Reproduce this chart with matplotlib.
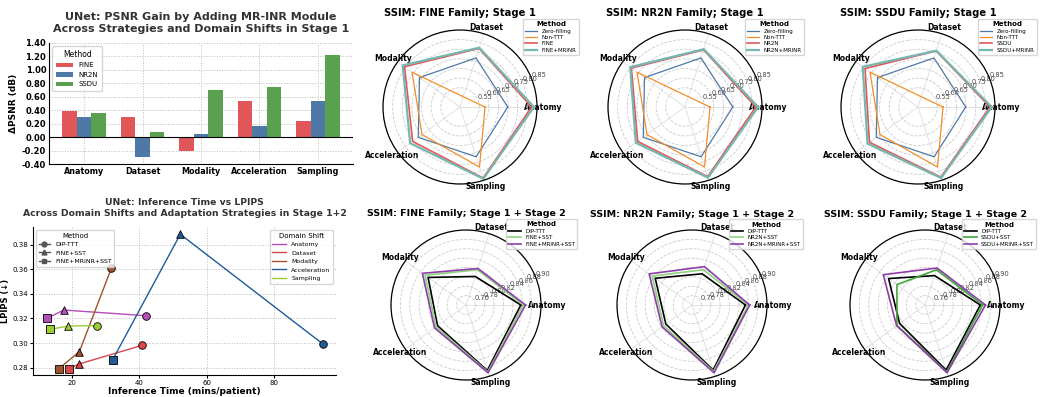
import numpy as np
import matplotlib.pyplot as plt

# ---- PSNR gain bar data ----
shifts = ["Anatomy", "Dataset", "Modality", "Acceleration", "Sampling"]
gain_fine = [0.39, 0.30, -0.20, 0.54, 0.24]
gain_nr2n = [0.30, -0.30, 0.05, 0.17, 0.53]
gain_ssdu = [0.36, 0.08, 0.70, 0.75, 1.22]

# ---- inference time vs LPIPS (DIP-TTT, FINE+SST, FINE+MRINR+SST) ----
time_mins = {
    "Anatomy":      [42.0, 17.5, 12.6],
    "Dataset":      [40.8, 22.2, 19.1],
    "Modality":     [31.7, 22.2, 16.1],
    "Acceleration": [94.6, 52.2, 32.1],
    "Sampling":     [27.4, 18.8, 13.6],
}
lpips_vals = {
    "Anatomy":      [0.3222, 0.3268, 0.3200],
    "Dataset":      [0.2981, 0.2830, 0.2792],
    "Modality":     [0.3608, 0.2930, 0.2792],
    "Acceleration": [0.2992, 0.3884, 0.2865],
    "Sampling":     [0.3141, 0.3138, 0.3111],
}
shift_colors = {
    "Anatomy": "#b44fb8",
    "Dataset": "#d9474a",
    "Modality": "#a0522d",
    "Acceleration": "#1f5b98",
    "Sampling": "#9acd32",
}

# ---- SSIM radar data, stage 1 ----
ssim_zero = [0.698, 0.718, 0.710, 0.718, 0.722]
ssim_nonttt = [0.580, 0.506, 0.758, 0.694, 0.778]
ssim_fine = [0.822, 0.770, 0.806, 0.754, 0.838]
ssim_fine_mrinr = [0.834, 0.774, 0.818, 0.770, 0.842]
ssim_nr2n = [0.818, 0.762, 0.794, 0.754, 0.830]
ssim_nr2n_mrinr = [0.830, 0.766, 0.802, 0.766, 0.836]
ssim_ssdu = [0.824, 0.756, 0.790, 0.762, 0.833]
ssim_ssdu_mrinr = [0.833, 0.758, 0.805, 0.774, 0.838]

# ---- SSIM radar data, stage 1 + stage 2 ----
s12_dip = [0.857, 0.804, 0.840, 0.815, 0.887]
s12_fine_sst = [0.862, 0.819, 0.848, 0.819, 0.890]
s12_fine_mrinr_sst = [0.867, 0.822, 0.855, 0.823, 0.892]
s12_dip_nr2n = [0.854, 0.810, 0.837, 0.809, 0.886]
s12_nr2n_sst = [0.860, 0.819, 0.845, 0.815, 0.889]
s12_nr2n_mrinr_sst = [0.863, 0.826, 0.853, 0.819, 0.892]
s12_dip_ssdu = [0.858, 0.806, 0.836, 0.807, 0.886]
s12_ssdu_sst = [0.863, 0.819, 0.814, 0.814, 0.890]
s12_ssdu_mrinr_sst = [0.869, 0.823, 0.850, 0.815, 0.892]

W, H = 1041, 397
fig = plt.figure(figsize=(W / 100, H / 100), dpi=100)


def px_axes(left, top, right, bottom, **kw):
    return fig.add_axes([left / W, 1 - bottom / H, (right - left) / W, (bottom - top) / H], **kw)


# ---------------- bar chart ----------------
ax = px_axes(49, 43, 353, 164)
x = np.arange(len(shifts))
bw = 0.25
ax.bar(x - bw, gain_fine, bw, color="#e15759", label="FINE", zorder=3)
ax.bar(x, gain_nr2n, bw, color="#4e79a7", label="NR2N", zorder=3)
ax.bar(x + bw, gain_ssdu, bw, color="#59a14f", label="SSDU", zorder=3)
ax.axhline(0, color="black", lw=0.8, zorder=4)
ax.set_xlim(-0.6, 4.6)
ax.set_ylim(-0.4, 1.4)
yt = np.arange(-0.4, 1.41, 0.2)
ax.set_yticks(yt)
ax.set_yticklabels([f"{v:.2f}" for v in yt], fontweight="bold", fontsize=6)
ax.set_xticks(x)
ax.set_xticklabels(shifts, fontweight="bold", fontsize=5.8)
ax.tick_params(length=0, pad=2)
ax.grid(True, ls=":", color="#bbbbbb", lw=0.7, zorder=0)
for s in ("top", "right"):
    ax.spines[s].set_visible(False)
ax.set_ylabel("ΔPSNR (dB)", fontweight="bold", fontsize=6.5, labelpad=3)
ax.set_title("UNet: PSNR Gain by Adding MR-INR Module\nAcross Strategies and Domain Shifts in Stage 1",
             fontweight="bold", fontsize=8, color="#333333", pad=8)
ax.legend(title="Method", loc="upper left", fontsize=5, title_fontsize=5.5, handlelength=2.5,
          borderpad=0.5, labelspacing=0.5)

# ---------------- time vs LPIPS ----------------
ax = px_axes(33, 227, 336, 375)
for name in shifts:
    t = time_mins[name]
    v = lpips_vals[name]
    c = shift_colors[name]
    ax.plot(t[::-1], v[::-1], color=c, lw=1.0, zorder=2)
    for k, m in enumerate(["o", "^", "s"]):
        ax.scatter(t[k], v[k], marker=m, s=30, color=c, edgecolor="black", lw=0.6, zorder=3)
ax.set_xlim(8.4, 98.5)
ax.set_ylim(0.274, 0.3943)
ax.set_xticks([20, 40, 60, 80])
lt = np.arange(0.28, 0.381, 0.02)
ax.set_yticks(lt)
ax.set_yticklabels([f"{v:.2f}" for v in lt])
ax.tick_params(labelsize=5, length=2, pad=1.5)
ax.grid(True, ls=":", color="#bbbbbb", lw=0.7)
for s in ("top", "right"):
    ax.spines[s].set_visible(False)
ax.set_xlabel("Inference Time (mins/patient)", fontweight="bold", fontsize=6.5, labelpad=1)
ax.set_ylabel("LPIPS (↓)", fontweight="bold", fontsize=6, labelpad=2)
ax.set_title("UNet: Inference Time vs LPIPS\nAcross Domain Shifts and Adaptation Strategies in Stage 1+2",
             fontweight="bold", fontsize=6.7, color="#333333", pad=8)
mh = [plt.Line2D([], [], color="#555555", marker=m, ms=3.5, lw=1) for m in ["o", "^", "s"]]
leg1 = ax.legend(mh, ["DIP-TTT", "FINE+SST", "FINE+MRINR+SST"], title="Method", loc="upper left",
                 fontsize=4.5, title_fontsize=5, handlelength=1.8)
ax.add_artist(leg1)
sh = [plt.Line2D([], [], color=shift_colors[n], lw=1) for n in shifts]
ax.legend(sh, shifts, title="Domain Shift", loc="upper right", fontsize=4.5, title_fontsize=5,
          handlelength=2.2)


# ---------------- SSIM radars ----------------
angles = np.linspace(0, 2 * np.pi, len(shifts), endpoint=False)


def radar(cx, cy, r, title, tsize, series, rlim, rticks, legx):
    a = px_axes(cx - r, cy - r, cx + r, cy + r, projection="polar")
    closed = np.append(angles, angles[0])
    for label, vals, color, lw in series:
        a.plot(closed, np.append(vals, vals[0]), color=color, lw=lw, label=label)
    a.set_ylim(*rlim)
    a.set_yticks(rticks)
    a.set_yticklabels([f"{t:.2f}" for t in rticks], fontsize=4.8, color="#444444")
    a.set_rlabel_position(22)
    a.set_xticks(angles)
    a.set_xticklabels(shifts, fontweight="bold", fontsize=5.5)
    a.tick_params(axis="x", pad=-6)
    a.grid(True, ls="--", color="#cccccc", lw=0.6)
    a.xaxis.grid(True, ls="-", color="#dddddd", lw=0.6)
    a.spines["polar"].set_color("black")
    a.spines["polar"].set_linewidth(0.9)
    a.set_title(title, fontweight="bold", fontsize=tsize, y=1.09, pad=0)
    a.legend(title="Method", loc="upper right", bbox_to_anchor=(legx, 1.09), fontsize=4,
             title_fontsize=5, handlelength=2.2, borderpad=0.4, labelspacing=0.25)
    a.get_legend().get_title().set_fontweight("bold")
    return a


s1_ticks = [0.55, 0.60, 0.65, 0.70, 0.75, 0.80, 0.85]
s1_fam = [("FINE", ssim_fine, ssim_fine_mrinr, 460),
          ("NR2N", ssim_nr2n, ssim_nr2n_mrinr, 685),
          ("SSDU", ssim_ssdu, ssim_ssdu_mrinr, 918)]
for fam, base, mr, cx in s1_fam:
    radar(cx, 107, 77, f"SSIM: {fam} Family; Stage 1", 7.2,
          [("Zero-filling", ssim_zero, "#4e79a7", 0.9),
           ("Non-TTT", ssim_nonttt, "#f28e2b", 0.9),
           (fam, base, "#e15759", 1.2),
           (f"{fam}+MRINR", mr, "#76b7b2", 1.6)],
          (0.45, 0.85), s1_ticks, 1.29)

s12_ticks = [0.76, 0.78, 0.80, 0.82, 0.84, 0.86, 0.88, 0.90]
s12_fam = [("FINE", s12_dip, s12_fine_sst, s12_fine_mrinr_sst, "#8fd17f", 466),
           ("NR2N", s12_dip_nr2n, s12_nr2n_sst, s12_nr2n_mrinr_sst, "#8fd17f", 692),
           ("SSDU", s12_dip_ssdu, s12_ssdu_sst, s12_ssdu_mrinr_sst, "#3fa83a", 925)]
for fam, dip, sst, mrs, gcol, cx in s12_fam:
    radar(cx, 305, 75, f"SSIM: {fam} Family; Stage 1 + Stage 2", 6.8,
          [("DIP-TTT", dip, "black", 1.2),
           (f"{fam}+SST", sst, gcol, 1.2),
           (f"{fam}+MRINR+SST", mrs, "#8e3ea8", 1.2)],
          (0.74, 0.90), s12_ticks, 1.26)

fig.savefig("out.png", dpi=100)
